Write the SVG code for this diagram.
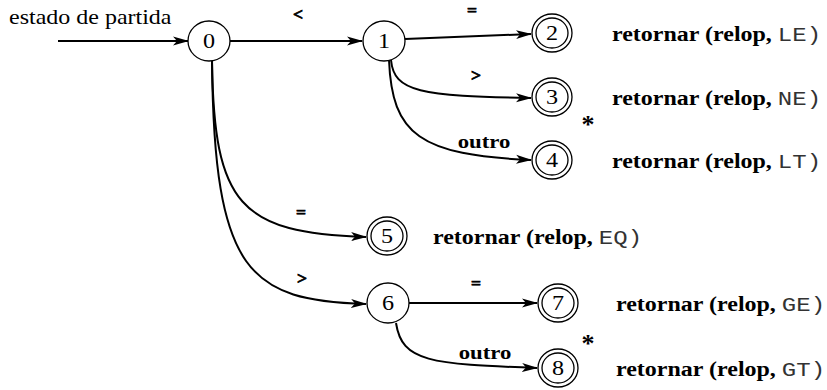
<svg xmlns="http://www.w3.org/2000/svg" width="827" height="390" viewBox="0 0 827 390">
<defs>
<marker id="arr" markerUnits="userSpaceOnUse" markerWidth="16" markerHeight="10" refX="15" refY="5" orient="auto">
<path d="M0,0.5 L16,5 L0,9.5 L4,5 z" fill="#000"/>
</marker>
<style>
text{font-family:"Liberation Serif","Times New Roman","DejaVu Serif",serif}
.st{fill:#fff;stroke:#000;stroke-width:1.3}
.num{font-size:21px;text-anchor:middle}
.lbl{font-weight:bold;text-anchor:middle}
.sym{font-weight:bold;text-anchor:middle;stroke:#000;stroke-width:0.7}
.ret{font-weight:bold;font-size:20px}
.mono{font-family:"Liberation Mono","Courier New","DejaVu Sans Mono",monospace;font-weight:normal;font-size:20px;fill:#333}
.edge{fill:none;stroke:#000;stroke-width:2;marker-end:url(#arr)}
</style>
</defs>
<rect width="827" height="390" fill="#fff"/>
<text transform="translate(9,24) scale(1.2,1)" font-size="20">estado de partida</text>
<g id="connectors">
<path class="edge" d="M58,41 L188,41"/>
<path class="edge" d="M230,41 L362,41"/>
<path class="edge" d="M405,39 L531,34"/>
<path class="edge" d="M391,60 C394,92 420,96 531,98"/>
<path class="edge" d="M389,60 C392,135 420,155 531,160"/>
<path class="edge" d="M212,61 C214,205 240,233 366,237"/>
<path class="edge" d="M212,61 C214,275 250,300 366,304"/>
<path class="edge" d="M409,303 L537,303"/>
<path class="edge" d="M396,323 C402,362 430,364 537,368"/>
<text class="sym" transform="translate(298,20) scale(1.1,1)" font-size="16">&lt;</text>
<text class="sym" transform="translate(472,16) scale(1.1,1)" font-size="16">=</text>
<text class="sym" transform="translate(476,81) scale(1.1,1)" font-size="16">&gt;</text>
<text class="lbl" transform="translate(484,148) scale(1.2,1)" font-size="19">outro</text>
<text class="sym" transform="translate(301,218) scale(1.1,1)" font-size="16">=</text>
<text class="sym" transform="translate(302,284) scale(1.1,1)" font-size="16">&gt;</text>
<text class="sym" transform="translate(476,289) scale(1.1,1)" font-size="16">=</text>
<text class="lbl" transform="translate(485,359) scale(1.2,1)" font-size="19">outro</text>
</g>
<g id="n0"><ellipse class="st" cx="209" cy="41" rx="21" ry="20"/><text class="num" transform="translate(209,48) scale(1.15,1)">0</text></g>
<g id="n1"><ellipse class="st" cx="384" cy="41" rx="21" ry="20"/><text class="num" transform="translate(384,48) scale(1.15,1)">1</text></g>
<g id="n2"><ellipse class="st" cx="552" cy="33" rx="20" ry="19"/><ellipse class="st" cx="552" cy="33" rx="16" ry="15"/><text class="num" transform="translate(552,40) scale(1.15,1)">2</text><text class="ret" transform="translate(612,41) scale(1.2,1)">retornar (relop, <tspan class="mono">LE)</tspan></text></g>
<g id="n3"><ellipse class="st" cx="552" cy="97" rx="20" ry="19"/><ellipse class="st" cx="552" cy="97" rx="16" ry="15"/><text class="num" transform="translate(552,104) scale(1.15,1)">3</text><text class="ret" transform="translate(612,105) scale(1.2,1)">retornar (relop, <tspan class="mono">NE)</tspan></text></g>
<g id="n4"><ellipse class="st" cx="552" cy="160" rx="20" ry="19"/><ellipse class="st" cx="552" cy="160" rx="16" ry="15"/><text class="num" transform="translate(552,167) scale(1.15,1)">4</text><text class="lbl" x="588" y="133" font-size="26">*</text><text class="ret" transform="translate(612,168) scale(1.2,1)">retornar (relop, <tspan class="mono">LT)</tspan></text></g>
<g id="n5"><ellipse class="st" cx="387" cy="236" rx="20" ry="19"/><ellipse class="st" cx="387" cy="236" rx="16" ry="15"/><text class="num" transform="translate(387,243) scale(1.15,1)">5</text><text class="ret" transform="translate(433,244) scale(1.2,1)">retornar (relop, <tspan class="mono">EQ)</tspan></text></g>
<g id="n6"><ellipse class="st" cx="388" cy="303" rx="21" ry="20"/><text class="num" transform="translate(388,310) scale(1.15,1)">6</text></g>
<g id="n7"><ellipse class="st" cx="558" cy="303" rx="20" ry="19"/><ellipse class="st" cx="558" cy="303" rx="16" ry="15"/><text class="num" transform="translate(558,310) scale(1.15,1)">7</text><text class="ret" transform="translate(616,311) scale(1.2,1)">retornar (relop, <tspan class="mono">GE)</tspan></text></g>
<g id="n8"><ellipse class="st" cx="558" cy="368" rx="20" ry="19"/><ellipse class="st" cx="558" cy="368" rx="16" ry="15"/><text class="num" transform="translate(558,375) scale(1.15,1)">8</text><text class="lbl" x="588" y="352" font-size="26">*</text><text class="ret" transform="translate(616,376) scale(1.2,1)">retornar (relop, <tspan class="mono">GT)</tspan></text></g>
</svg>
